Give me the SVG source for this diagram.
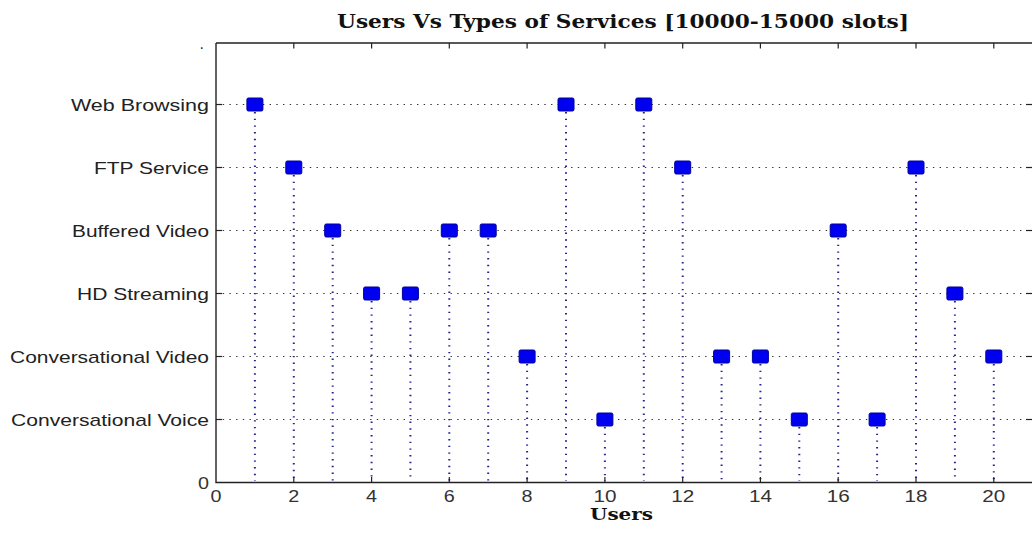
<svg xmlns="http://www.w3.org/2000/svg" width="1032" height="538" viewBox="0 0 1032 538">
<style>
.ax{stroke:#222;stroke-width:1.4;fill:none}
.tk{stroke:#222;stroke-width:1.2}
.grid{stroke:#333;stroke-width:1.2;stroke-dasharray:1.4 5.3;fill:none}
.stem{stroke:#23238e;stroke-width:2;stroke-dasharray:1.4 5.3;fill:none}
.mk{fill:#0000f0;stroke:#00009a;stroke-width:1}
.lbl{font-family:"Liberation Sans",Arial,sans-serif;font-size:17px;fill:#222}
.num{font-family:"Liberation Sans",Arial,sans-serif;font-size:16px;fill:#333}
.ttl{font-family:"DejaVu Serif","Liberation Serif",serif;font-weight:bold;fill:#111}
</style>
<rect x="0" y="0" width="1032" height="538" fill="#fff"/>
<text class="ttl" x="623" y="28" font-size="19" text-anchor="middle" textLength="572" lengthAdjust="spacingAndGlyphs">Users Vs Types of Services [10000-15000 slots]</text>
<g id="grid">
<line class="grid" x1="216" y1="104.5" x2="1031" y2="104.5"/>
<line class="grid" x1="216" y1="167.5" x2="1031" y2="167.5"/>
<line class="grid" x1="216" y1="230.5" x2="1031" y2="230.5"/>
<line class="grid" x1="216" y1="293.5" x2="1031" y2="293.5"/>
<line class="grid" x1="216" y1="356.5" x2="1031" y2="356.5"/>
<line class="grid" x1="216" y1="419.5" x2="1031" y2="419.5"/>
</g>
<g id="connectors">
<line class="stem" x1="254.9" y1="112" x2="254.9" y2="481"/>
<line class="stem" x1="293.8" y1="175" x2="293.8" y2="481"/>
<line class="stem" x1="332.7" y1="238" x2="332.7" y2="481"/>
<line class="stem" x1="371.6" y1="301" x2="371.6" y2="481"/>
<line class="stem" x1="410.4" y1="301" x2="410.4" y2="481"/>
<line class="stem" x1="449.3" y1="238" x2="449.3" y2="481"/>
<line class="stem" x1="488.2" y1="238" x2="488.2" y2="481"/>
<line class="stem" x1="527.1" y1="364" x2="527.1" y2="481"/>
<line class="stem" x1="566" y1="112" x2="566" y2="481"/>
<line class="stem" x1="604.9" y1="427" x2="604.9" y2="481"/>
<line class="stem" x1="643.8" y1="112" x2="643.8" y2="481"/>
<line class="stem" x1="682.7" y1="175" x2="682.7" y2="481"/>
<line class="stem" x1="721.6" y1="364" x2="721.6" y2="481"/>
<line class="stem" x1="760.4" y1="364" x2="760.4" y2="481"/>
<line class="stem" x1="799.3" y1="427" x2="799.3" y2="481"/>
<line class="stem" x1="838.2" y1="238" x2="838.2" y2="481"/>
<line class="stem" x1="877.1" y1="427" x2="877.1" y2="481"/>
<line class="stem" x1="916" y1="175" x2="916" y2="481"/>
<line class="stem" x1="954.9" y1="301" x2="954.9" y2="481"/>
<line class="stem" x1="993.8" y1="364" x2="993.8" y2="481"/>
</g>
<g id="markers">
<rect id="u1" class="mk" x="246.9" y="98" width="16" height="13" rx="1.5"/>
<rect id="u2" class="mk" x="285.8" y="161" width="16" height="13" rx="1.5"/>
<rect id="u3" class="mk" x="324.7" y="224" width="16" height="13" rx="1.5"/>
<rect id="u4" class="mk" x="363.6" y="287" width="16" height="13" rx="1.5"/>
<rect id="u5" class="mk" x="402.4" y="287" width="16" height="13" rx="1.5"/>
<rect id="u6" class="mk" x="441.3" y="224" width="16" height="13" rx="1.5"/>
<rect id="u7" class="mk" x="480.2" y="224" width="16" height="13" rx="1.5"/>
<rect id="u8" class="mk" x="519.1" y="350" width="16" height="13" rx="1.5"/>
<rect id="u9" class="mk" x="558" y="98" width="16" height="13" rx="1.5"/>
<rect id="u10" class="mk" x="596.9" y="413" width="16" height="13" rx="1.5"/>
<rect id="u11" class="mk" x="635.8" y="98" width="16" height="13" rx="1.5"/>
<rect id="u12" class="mk" x="674.7" y="161" width="16" height="13" rx="1.5"/>
<rect id="u13" class="mk" x="713.6" y="350" width="16" height="13" rx="1.5"/>
<rect id="u14" class="mk" x="752.4" y="350" width="16" height="13" rx="1.5"/>
<rect id="u15" class="mk" x="791.3" y="413" width="16" height="13" rx="1.5"/>
<rect id="u16" class="mk" x="830.2" y="224" width="16" height="13" rx="1.5"/>
<rect id="u17" class="mk" x="869.1" y="413" width="16" height="13" rx="1.5"/>
<rect id="u18" class="mk" x="908" y="161" width="16" height="13" rx="1.5"/>
<rect id="u19" class="mk" x="946.9" y="287" width="16" height="13" rx="1.5"/>
<rect id="u20" class="mk" x="985.8" y="350" width="16" height="13" rx="1.5"/>
</g>
<g id="axes">
<path class="ax" d="M216 43 V482.5 H1032 M216 43 H1032"/>
<g class="tk">
<line x1="216" y1="104.5" x2="222" y2="104.5"/>
<line x1="216" y1="167.5" x2="222" y2="167.5"/>
<line x1="216" y1="230.5" x2="222" y2="230.5"/>
<line x1="216" y1="293.5" x2="222" y2="293.5"/>
<line x1="216" y1="356.5" x2="222" y2="356.5"/>
<line x1="216" y1="419.5" x2="222" y2="419.5"/>
<line x1="1026" y1="104.5" x2="1032" y2="104.5"/>
<line x1="1026" y1="167.5" x2="1032" y2="167.5"/>
<line x1="1026" y1="230.5" x2="1032" y2="230.5"/>
<line x1="1026" y1="293.5" x2="1032" y2="293.5"/>
<line x1="1026" y1="356.5" x2="1032" y2="356.5"/>
<line x1="1026" y1="419.5" x2="1032" y2="419.5"/>
<line x1="293.8" y1="482.5" x2="293.8" y2="477"/>
<line x1="371.6" y1="482.5" x2="371.6" y2="477"/>
<line x1="449.3" y1="482.5" x2="449.3" y2="477"/>
<line x1="527.1" y1="482.5" x2="527.1" y2="477"/>
<line x1="604.9" y1="482.5" x2="604.9" y2="477"/>
<line x1="682.7" y1="482.5" x2="682.7" y2="477"/>
<line x1="760.4" y1="482.5" x2="760.4" y2="477"/>
<line x1="838.2" y1="482.5" x2="838.2" y2="477"/>
<line x1="916" y1="482.5" x2="916" y2="477"/>
<line x1="993.8" y1="482.5" x2="993.8" y2="477"/>
<line x1="293.8" y1="43" x2="293.8" y2="48.5"/>
<line x1="371.6" y1="43" x2="371.6" y2="48.5"/>
<line x1="449.3" y1="43" x2="449.3" y2="48.5"/>
<line x1="527.1" y1="43" x2="527.1" y2="48.5"/>
<line x1="604.9" y1="43" x2="604.9" y2="48.5"/>
<line x1="682.7" y1="43" x2="682.7" y2="48.5"/>
<line x1="760.4" y1="43" x2="760.4" y2="48.5"/>
<line x1="838.2" y1="43" x2="838.2" y2="48.5"/>
<line x1="916" y1="43" x2="916" y2="48.5"/>
<line x1="993.8" y1="43" x2="993.8" y2="48.5"/>
</g>
</g>
<g id="ylabels" text-anchor="end">
<text class="num" x="204" y="49">.</text>
<text class="lbl" x="209" y="111" textLength="138" lengthAdjust="spacingAndGlyphs">Web Browsing</text>
<text class="lbl" x="209" y="174" textLength="115" lengthAdjust="spacingAndGlyphs">FTP Service</text>
<text class="lbl" x="209" y="237" textLength="137" lengthAdjust="spacingAndGlyphs">Buffered Video</text>
<text class="lbl" x="209" y="300" textLength="132" lengthAdjust="spacingAndGlyphs">HD Streaming</text>
<text class="lbl" x="209" y="363" textLength="199" lengthAdjust="spacingAndGlyphs">Conversational Video</text>
<text class="lbl" x="209" y="426" textLength="198" lengthAdjust="spacingAndGlyphs">Conversational Voice</text>
<text class="num" x="209" y="489" textLength="11" lengthAdjust="spacingAndGlyphs">0</text>
</g>
<g id="xlabels" text-anchor="middle">
<text class="num" x="216" y="502" textLength="11" lengthAdjust="spacingAndGlyphs">0</text>
<text class="num" x="293.8" y="502" textLength="11" lengthAdjust="spacingAndGlyphs">2</text>
<text class="num" x="371.6" y="502" textLength="11" lengthAdjust="spacingAndGlyphs">4</text>
<text class="num" x="449.3" y="502" textLength="11" lengthAdjust="spacingAndGlyphs">6</text>
<text class="num" x="527.1" y="502" textLength="11" lengthAdjust="spacingAndGlyphs">8</text>
<text class="num" x="604.9" y="502" textLength="23" lengthAdjust="spacingAndGlyphs">10</text>
<text class="num" x="682.7" y="502" textLength="23" lengthAdjust="spacingAndGlyphs">12</text>
<text class="num" x="760.4" y="502" textLength="23" lengthAdjust="spacingAndGlyphs">14</text>
<text class="num" x="838.2" y="502" textLength="23" lengthAdjust="spacingAndGlyphs">16</text>
<text class="num" x="916" y="502" textLength="23" lengthAdjust="spacingAndGlyphs">18</text>
<text class="num" x="993.8" y="502" textLength="23" lengthAdjust="spacingAndGlyphs">20</text>
<text class="ttl" x="621.5" y="520" font-size="17" textLength="63" lengthAdjust="spacingAndGlyphs">Users</text>
</g>
</svg>
